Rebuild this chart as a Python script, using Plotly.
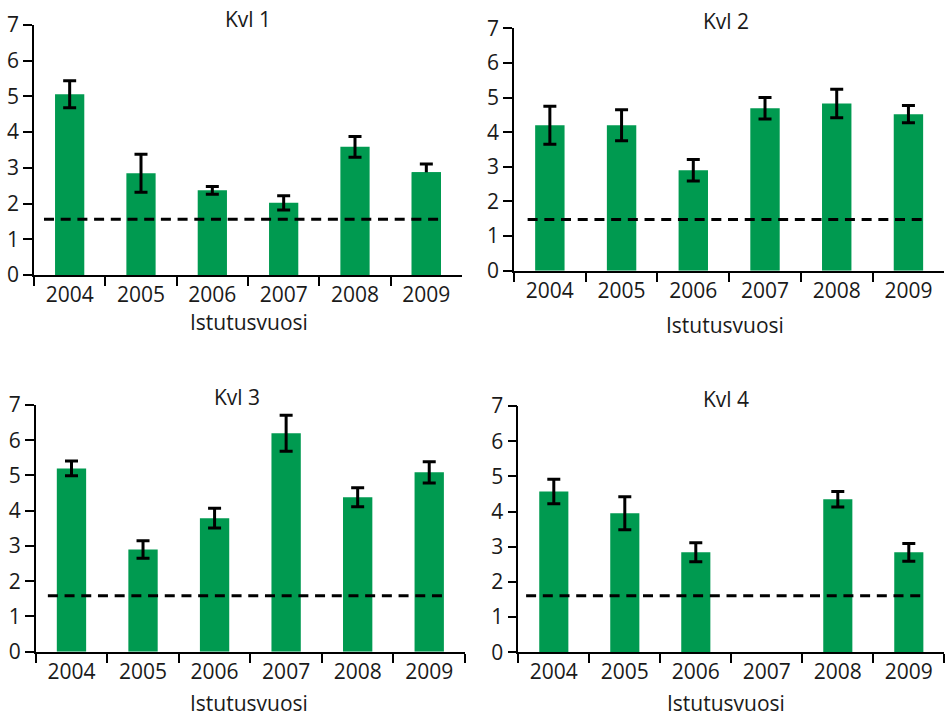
import plotly.graph_objects as go

# Planting years shared by all four panels
years = ["2004", "2005", "2006", "2007", "2008", "2009"]

# Panel titles
panel_titles = ["Kvl 1", "Kvl 2", "Kvl 3", "Kvl 4"]
x_title = "Istutusvuosi"

# Mean values per panel
kvl1_values = [5.06, 2.85, 2.37, 2.02, 3.59, 2.88]
kvl2_values = [4.20, 4.20, 2.90, 4.69, 4.83, 4.52]
kvl3_values = [5.20, 2.90, 3.79, 6.20, 4.38, 5.09]
kvl4_values = [4.57, 3.95, 2.84, None, 4.35, 2.84]

# Error bar half-lengths per panel
kvl1_errors = [0.38, 0.53, 0.11, 0.20, 0.29, 0.23]
kvl2_errors = [0.55, 0.45, 0.31, 0.31, 0.41, 0.25]
kvl3_errors = [0.21, 0.25, 0.28, 0.51, 0.27, 0.30]
kvl4_errors = [0.35, 0.47, 0.27, None, 0.22, 0.25]

# Bars whose lower whisker stays hidden behind the bar
kvl1_upper_only = [False, False, False, False, False, True]
kvl2_upper_only = [False] * 6
kvl3_upper_only = [False] * 6
kvl4_upper_only = [False] * 6

# Reference level drawn as a dashed line in each panel
reference_levels = [1.56, 1.48, 1.59, 1.61]

values = [kvl1_values, kvl2_values, kvl3_values, kvl4_values]
errors = [kvl1_errors, kvl2_errors, kvl3_errors, kvl4_errors]
upper_only = [kvl1_upper_only, kvl2_upper_only, kvl3_upper_only, kvl4_upper_only]

W, H = 946, 720
GREEN = "#009a50"
TEXT = "#1a1a1a"
FONT = "Open Sans"
FONT_SIZE = 21

# Plot areas in pixels: (left, right, top, bottom)
areas = [
    (34.0, 462.0, 25.0, 275.0),
    (514.0, 944.3, 28.3, 270.7),
    (35.7, 465.0, 405.0, 651.7),
    (518.3, 944.3, 406.0, 652.3),
]
# Title centres in pixels
title_pos = [(248, 19), (726, 21), (237, 397), (726, 399)]
# x-title anchors in pixels: (x centre, y, vertical anchor)
xtitle_pos = [(249, 322, "middle"), (725, 325, "middle"),
              (249, 719, "bottom"), (726, 719, "bottom")]
# Horizontal extent of the dashed reference line in category units
ref_span = [(-0.36, 5.19), (-0.31, 5.27), (-0.33, 5.24), (-0.39, 5.22)]

fig = go.Figure()

for i in range(4):
    suffix = "" if i == 0 else str(i + 1)
    xa, ya = "x" + suffix, "y" + suffix

    fig.add_trace(go.Bar(
        x=years, y=values[i],
        xaxis=xa, yaxis=ya,
        width=0.41,
        marker=dict(color=GREEN, line=dict(width=0)),
        error_y=dict(type="data", array=errors[i], visible=True,
                     color="black", thickness=3, width=6.5),
        showlegend=False, hoverinfo="x+y",
    ))

    # Bars drawn again on top where only the upper whisker is shown
    cover = [v if flag else None for v, flag in zip(values[i], upper_only[i])]
    if any(c is not None for c in cover):
        fig.add_trace(go.Bar(
            x=years, y=cover,
            xaxis=xa, yaxis=ya,
            width=0.41,
            marker=dict(color=GREEN, line=dict(width=0)),
            showlegend=False, hoverinfo="skip",
        ))

    l, r, t, b = areas[i]
    axis_common = dict(
        showline=True, linecolor="black", linewidth=1.6,
        ticks="outside", tickcolor="black", tickwidth=1.6,
        showgrid=False, zeroline=False, automargin=False,
        tickfont=dict(family=FONT, size=FONT_SIZE, color=TEXT),
    )
    fig.layout["xaxis" + suffix] = dict(
        axis_common,
        domain=[l / W, r / W],
        anchor=ya,
        type="category",
        categoryorder="array", categoryarray=years,
        range=[-0.5, 5.5],
        tickson="boundaries",
        ticklen=9,
    )
    fig.layout["yaxis" + suffix] = dict(
        axis_common,
        domain=[1 - b / H, 1 - t / H],
        anchor=xa,
        range=[0, 7],
        tickmode="linear", tick0=0, dtick=1,
        ticklen=9,
    )

    x0, x1 = ref_span[i]
    fig.add_shape(
        type="line", xref=xa, yref=ya,
        x0=x0, x1=x1, y0=reference_levels[i], y1=reference_levels[i],
        line=dict(color="black", width=3, dash="10px,6.7px"),
        layer="above",
    )

    tx, ty = title_pos[i]
    fig.add_annotation(
        text=panel_titles[i], xref="paper", yref="paper",
        x=tx / W, y=1 - ty / H, xanchor="center", yanchor="middle",
        showarrow=False, font=dict(family=FONT, size=FONT_SIZE, color=TEXT),
    )
    sx, sy, anchor = xtitle_pos[i]
    fig.add_annotation(
        text=x_title, xref="paper", yref="paper",
        x=sx / W, y=1 - sy / H, xanchor="center", yanchor=anchor,
        showarrow=False, font=dict(family=FONT, size=FONT_SIZE, color=TEXT),
    )

fig.update_layout(
    width=W, height=H,
    margin=dict(l=0, r=0, t=0, b=0, pad=0, autoexpand=False),
    paper_bgcolor="white", plot_bgcolor="white",
    barmode="overlay",
    showlegend=False,
)

fig.write_html("out.html")
